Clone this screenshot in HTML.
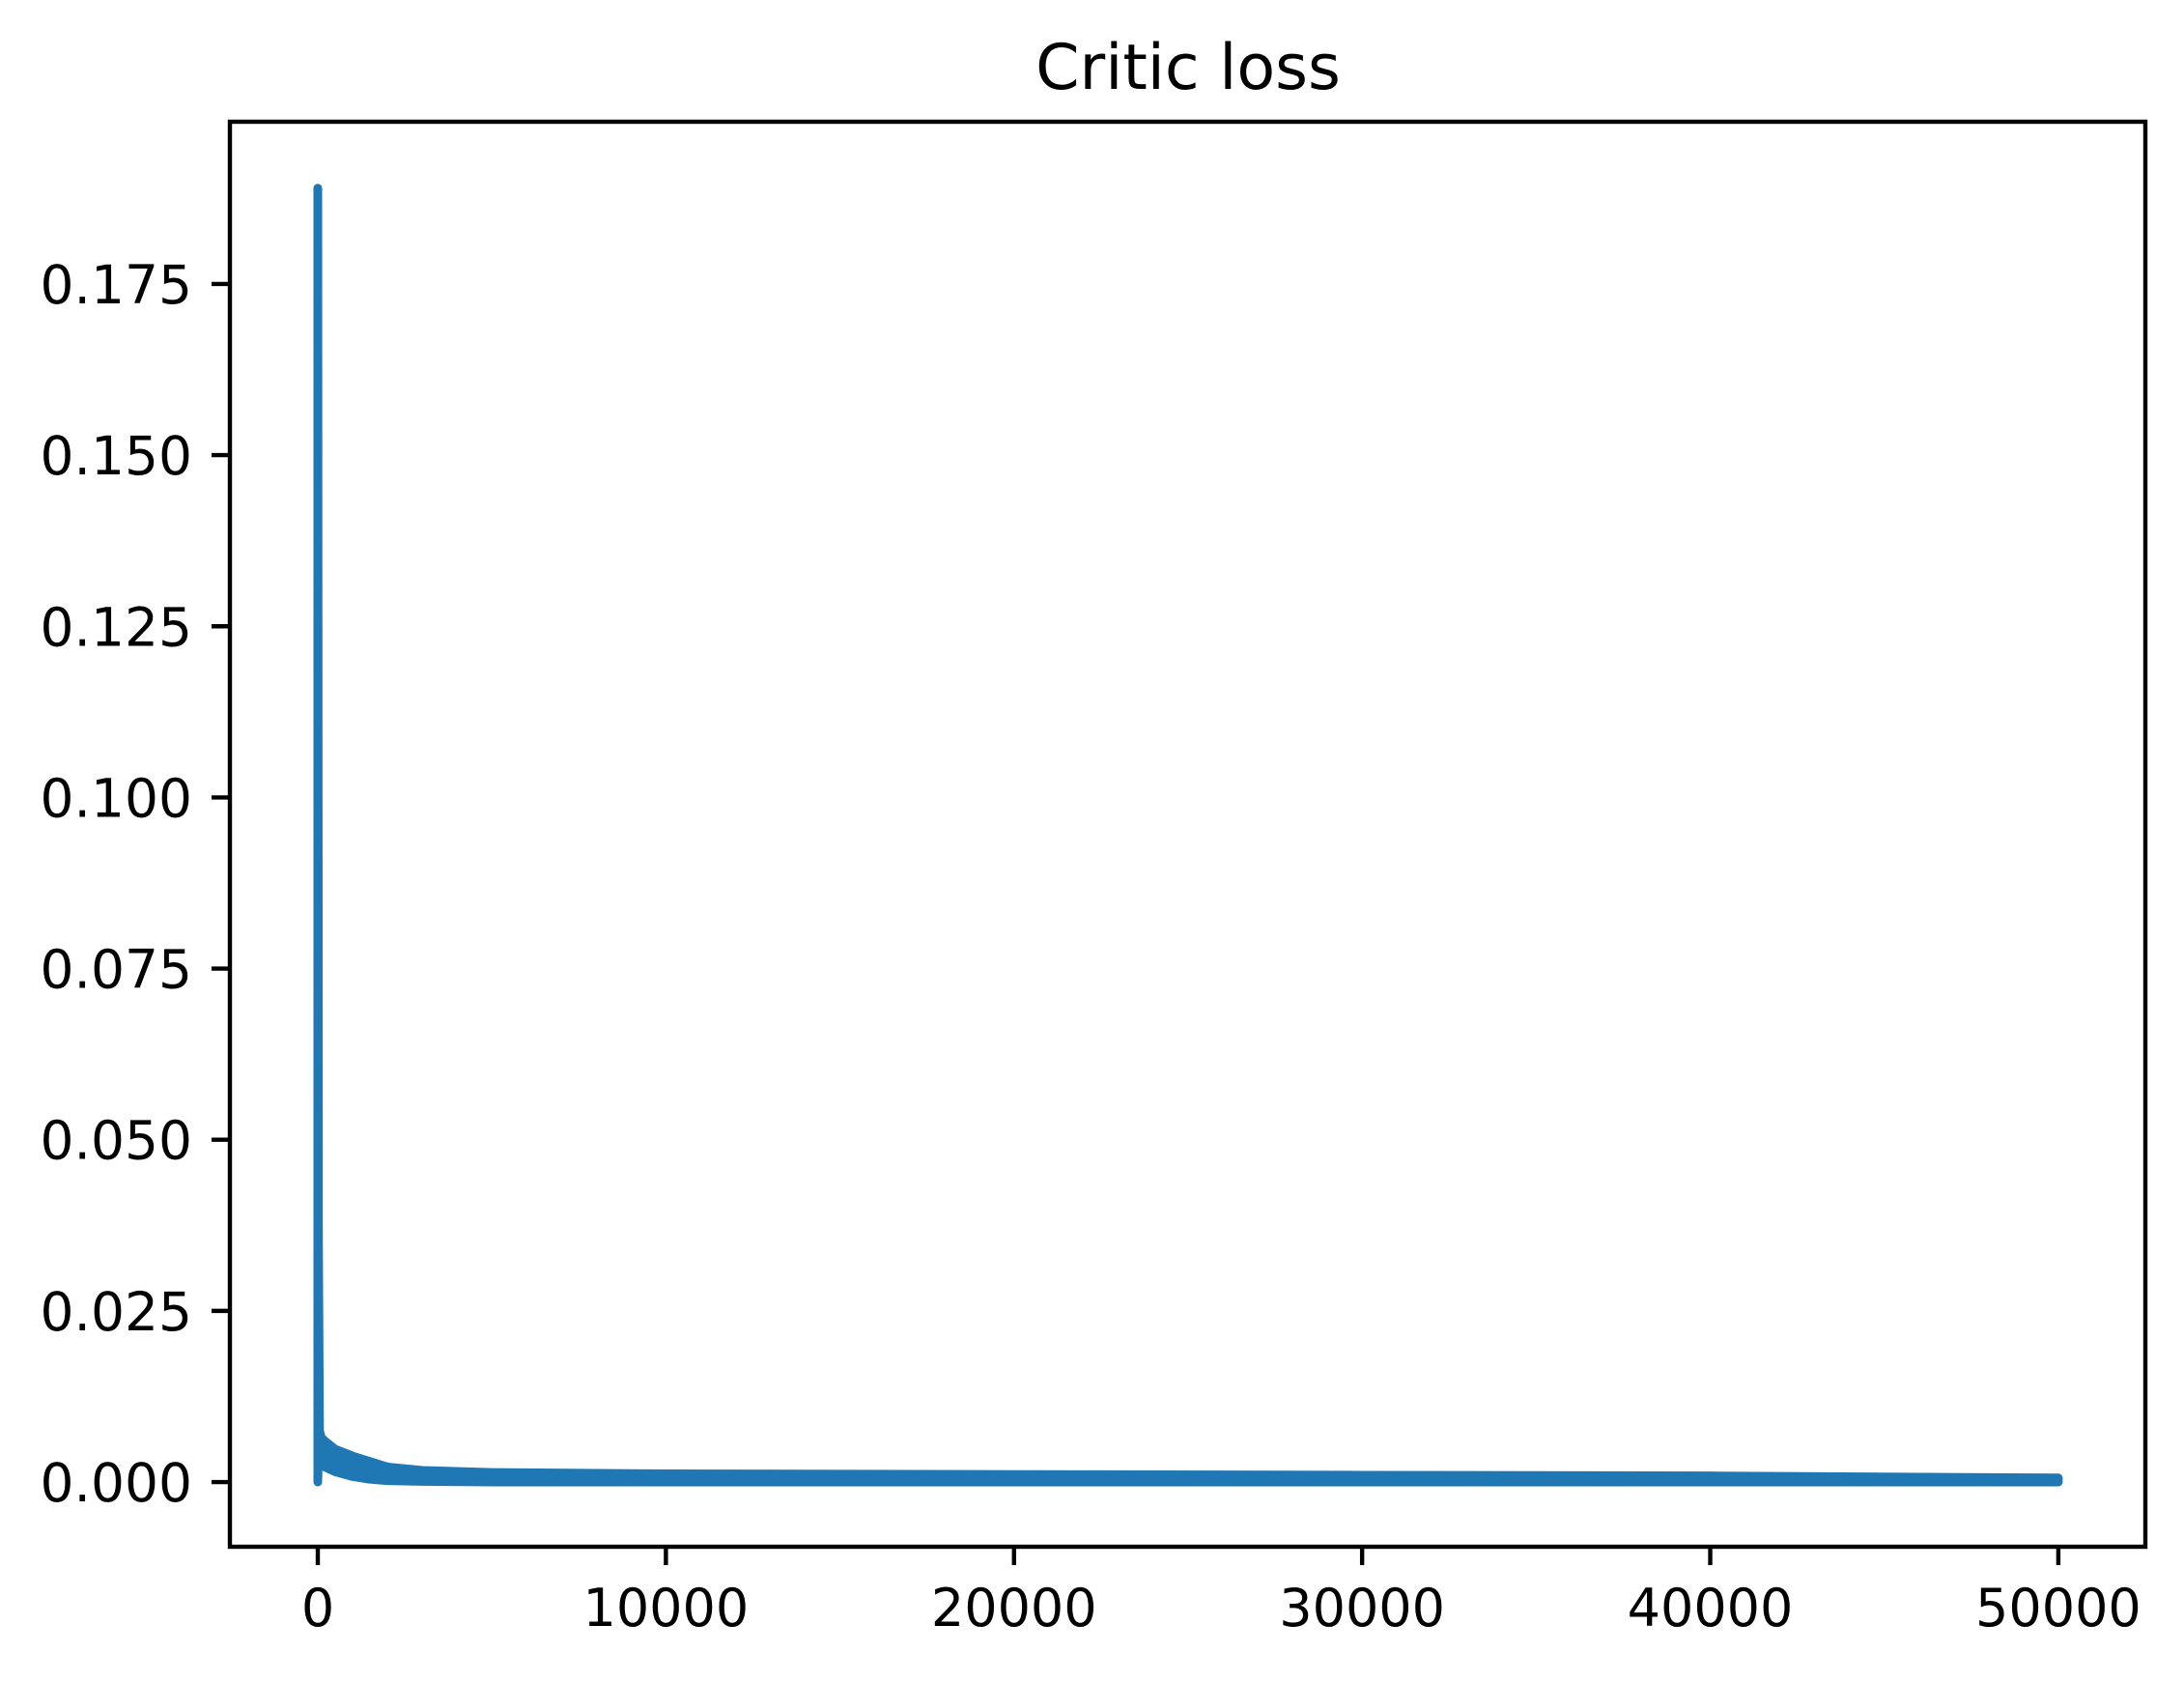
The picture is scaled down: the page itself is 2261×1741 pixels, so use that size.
<!DOCTYPE html>
<html><head><meta charset="utf-8"><style>
html,body{margin:0;padding:0;background:#fff}
svg text{font-family:"DejaVu Sans","Liberation Sans",sans-serif;fill:#000}
</style></head><body>
<svg id="chart" width="2261" height="1736" xmlns="http://www.w3.org/2000/svg">
<rect width="2261" height="1736" fill="#fff"/>
<text x="1230" y="92" font-size="65" text-anchor="middle">Critic loss</text>
<g id="plot"></g>
</svg>
<script>
const xTicks = [0, 10000, 20000, 30000, 40000, 50000];
const yTicks = [0.000, 0.025, 0.050, 0.075, 0.100, 0.125, 0.150, 0.175];
const yTickLabels = ["0.000","0.025","0.050","0.075","0.100","0.125","0.150","0.175"];
const steps = [0, 20, 50, 100, 200, 500, 1000, 1500, 2000, 3000, 5000, 10000, 20000, 30000, 40000, 50000];
const upper = [0.189, 0.035, 0.0075, 0.0065, 0.006, 0.0048, 0.0038, 0.003, 0.0022, 0.0017, 0.0014, 0.0012, 0.0011, 0.001, 0.0009, 0.0006];
const lower = [0.0, 0.004, 0.0035, 0.0028, 0.0022, 0.0015, 0.0008, 0.0004, 0.0002, 0.0001, 0.0, 0.0, 0.0, 0.0, 0.0, 0.0];

const L=238,R=2221,T=126,B=1601;
const xMin=-2525,xMax=52500,yMin=-0.00945,yMax=0.1987;
const sx=v=>L+(v-xMin)/(xMax-xMin)*(R-L);
const sy=v=>B-(v-yMin)/(yMax-yMin)*(B-T);
const NS='http://www.w3.org/2000/svg';
const g=document.getElementById('plot');
function mk(t,a){const e=document.createElementNS(NS,t);for(const k in a)e.setAttribute(k,a[k]);g.appendChild(e);return e;}

let pts=[];
for(let i=0;i<steps.length;i++)pts.push(sx(steps[i])+','+sy(upper[i]));
for(let i=steps.length-1;i>=0;i--)pts.push(sx(steps[i])+','+sy(lower[i]));
const band=mk('polygon',{points:pts.join(' '),fill:'#1f77b4',stroke:'#1f77b4','stroke-width':9,'stroke-linejoin':'round'});



const frame=mk('rect',{x:L,y:T,width:R-L,height:B-T,fill:'none',stroke:'#000','stroke-width':4.4});



xTicks.forEach(v=>{
  const x=sx(v);
  const t=mk('line',{x1:x,x2:x,y1:B,y2:B+19,stroke:'#000','stroke-width':4.4});
  
  
  const l=mk('text',{x:x,y:B+82,'font-size':54,'text-anchor':'middle'});
  l.textContent=String(v);
  
  
});
yTicks.forEach((v,i)=>{
  const y=sy(v);
  const t=mk('line',{x1:L-19,x2:L,y1:y,y2:y,stroke:'#000','stroke-width':4.4});
  
  
  const l=mk('text',{x:L-39,y:y+20,'font-size':55,'text-anchor':'end'});
  l.textContent=yTickLabels[i];
  
  
});
</script>
</body></html>
